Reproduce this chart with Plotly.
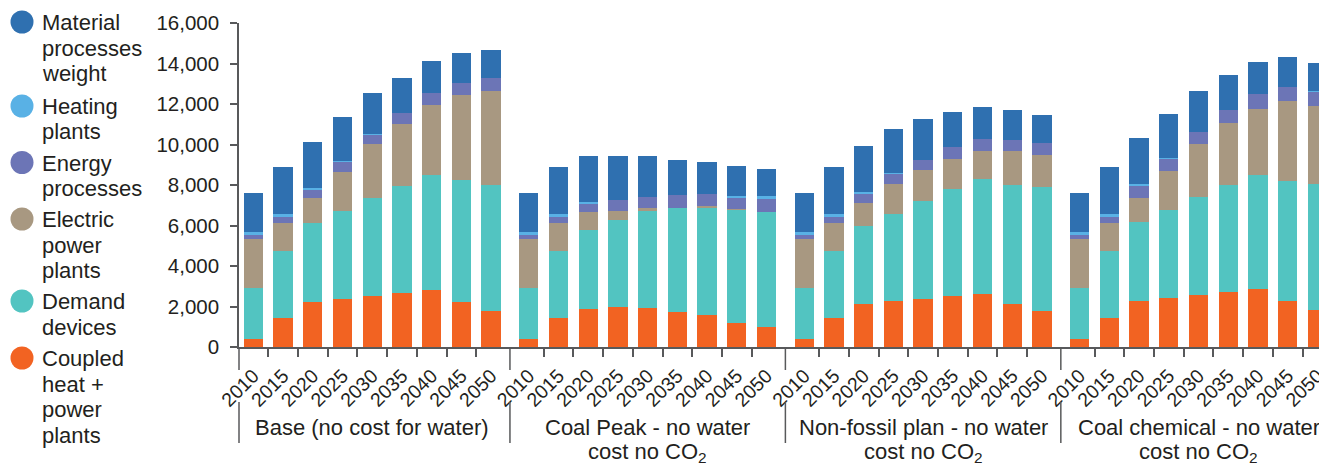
import plotly.graph_objects as go

# ---------------- data ----------------
years = [2010, 2015, 2020, 2025, 2030, 2035, 2040, 2045, 2050]
scenario_lines = [
    ["Base (no cost for water)"],
    ["Coal Peak - no water", "cost no CO<sub>2</sub>"],
    ["Non-fossil plan - no water", "cost no CO<sub>2</sub>"],
    ["Coal chemical - no water", "cost no CO<sub>2</sub>"],
]

# values per scenario block: Base | Coal Peak | Non-fossil | Coal chemical
coupled_chp = [380, 1435, 2230, 2360, 2520, 2660, 2800, 2230, 1770,
               380, 1435, 1860, 1960, 1910, 1720, 1570, 1170, 970,
               380, 1435, 2130, 2260, 2360, 2520, 2620, 2130, 1770,
               380, 1435, 2260, 2410, 2560, 2700, 2850, 2260, 1820]
demand_devices = [2540, 3300, 3890, 4350, 4830, 5310, 5690, 6020, 6240,
                  2540, 3300, 3930, 4320, 4800, 5150, 5340, 5610, 5690,
                  2540, 3300, 3860, 4320, 4850, 5280, 5670, 5870, 6140,
                  2540, 3300, 3930, 4370, 4850, 5300, 5640, 5940, 6250]
electric_power = [2410, 1385, 1240, 1930, 2670, 3050, 3460, 4210, 4650,
                  2410, 1385, 870, 430, 150, 0, 50, 30, 0,
                  2410, 1385, 1120, 1470, 1530, 1490, 1390, 1680, 1580,
                  2410, 1385, 1170, 1910, 2620, 3070, 3270, 3960, 3840]
energy_processes = [200, 300, 400, 500, 450, 545, 595, 595, 645,
                    200, 300, 445, 545, 545, 645, 595, 545, 645,
                    200, 300, 445, 495, 495, 595, 595, 545, 595,
                    200, 300, 595, 595, 595, 645, 740, 695, 695]
heating_plants = [150, 150, 100, 50, 50, 0, 0, 0, 0,
                  150, 150, 65, 0, 0, 0, 0, 100, 150,
                  150, 150, 100, 50, 0, 0, 0, 0, 0,
                  150, 150, 100, 50, 0, 0, 0, 0, 50]
material_processes = [1930, 2325, 2280, 2180, 2030, 1730, 1580, 1480, 1340,
                      1930, 2325, 2260, 2180, 2030, 1730, 1580, 1480, 1340,
                      1930, 2325, 2280, 2180, 2030, 1730, 1580, 1480, 1390,
                      1930, 2325, 2280, 2180, 2030, 1730, 1580, 1480, 1390]

# stacking order bottom -> top
series = [
    ("Coupled heat + power plants", ["Coupled", "heat +", "power", "plants"], coupled_chp, "#F26322"),
    ("Demand devices", ["Demand", "devices"], demand_devices, "#52C4C1"),
    ("Electric power plants", ["Electric", "power", "plants"], electric_power, "#A89881"),
    ("Energy processes", ["Energy", "processes"], energy_processes, "#6C75B6"),
    ("Heating plants", ["Heating", "plants"], heating_plants, "#59B1E5"),
    ("Material processes weight", ["Material", "processes", "weight"], material_processes, "#2F70B0"),
]

# ---------------- layout helpers ----------------
OFF = 8                      # page body margin of the html page
W, H = 1327 - OFF, 465 - OFF
ML, MR, MT, MB = 239 - OFF, 0, 23 - OFF, 118
PW, PH = W - ML - MR, H - MT - MB
UNIT = 29.86                 # px per category
FIRST = 253.4                # screen px of first bar centre
GAP = 0.267                  # extra space between scenario blocks (category units)
BLOCK = len(years) + GAP
TEXT = "#231F20"
AXIS = "#58595B"
FONT = "Liberation Sans, Arial, sans-serif"


def px_x(sx):
    return (sx - OFF - ML) / PW


def px_y(sy):
    return (H - MB - (sy - OFF)) / PH


x_pos = [g * BLOCK + i for g in range(len(scenario_lines)) for i in range(len(years))]
tick_text = [str(y) for _ in scenario_lines for y in years]

fig = go.Figure()
for name, _, vals, col in series:
    fig.add_trace(go.Bar(
        x=x_pos, y=vals, name=name, marker=dict(color=col, line=dict(width=0)),
        width=0.65, showlegend=False,
        hovertemplate=name + ": %{y:,}<extra></extra>",
    ))

minor_vals = [g * BLOCK + i + 0.5 for g in range(len(scenario_lines)) for i in range(len(years) - 1)]
sep_vals = [g * BLOCK - 0.5 - GAP / 2 for g in range(1, len(scenario_lines))]

shapes = []
annotations = []

# separators below the axis (left edge + between blocks)
for seg in [(347, 370), (402, 443)]:
    shapes.append(dict(type="line", xref="paper", yref="paper", x0=0, x1=0,
                       y0=px_y(seg[0]), y1=px_y(seg[1]),
                       line=dict(color=AXIS, width=1.5)))
    for sx in sep_vals:
        shapes.append(dict(type="line", xref="x", yref="paper", x0=sx, x1=sx,
                           y0=px_y(seg[0]), y1=px_y(seg[1]),
                           line=dict(color=AXIS, width=1.5)))

# scenario labels
for g, lines in enumerate(scenario_lines):
    for k, line in enumerate(lines):
        annotations.append(dict(
            x=g * BLOCK + (len(years) - 1) / 2, xref="x",
            y=px_y(427.5 + 25 * k), yref="paper", yanchor="middle", xanchor="center",
            text=line, showarrow=False, align="center", valign="middle",
            height=25, borderpad=0,
            font=dict(size=22, color=TEXT, family=FONT),
        ))

# custom legend (top entry = top of stack)
legend_y = [22, 106, 162.5, 219, 301, 358]
for (name, lines, _, col), cy in zip(series[::-1], legend_y):
    shapes.append(dict(type="circle", xref="paper", yref="paper",
                       xsizemode="pixel", ysizemode="pixel",
                       xanchor=px_x(21), yanchor=px_y(cy),
                       x0=-11.5, x1=11.5, y0=-11.5, y1=11.5,
                       fillcolor=col, line=dict(width=0)))
    for k, line in enumerate(lines):
        annotations.append(dict(
            x=px_x(40), xref="paper", y=px_y(cy + 1 + 25.5 * k), yref="paper",
            xanchor="left", yanchor="middle", align="left", valign="middle",
            height=25.5, borderpad=0, showarrow=False,
            text=line, font=dict(size=22, color=TEXT, family=FONT),
        ))

x0_range = -(FIRST - 239) / UNIT
fig.update_layout(
    width=W, height=H,
    margin=dict(l=ML, r=MR, t=MT, b=MB, pad=0),
    plot_bgcolor="white", paper_bgcolor="white",
    barmode="stack", bargap=0,
    font=dict(family=FONT, size=20, color=TEXT),
    showlegend=False,
    shapes=shapes, annotations=annotations,
    xaxis=dict(
        range=[x0_range, x0_range + PW / UNIT],
        tickmode="array", tickvals=x_pos, ticktext=tick_text,
        tickangle=-45, ticks="", ticklabelstandoff=8,
        ticklabeloverflow="allow",
        showline=True, linecolor=AXIS, linewidth=1.5,
        showgrid=False, zeroline=False,
        tickfont=dict(size=19.5, color=TEXT, family=FONT),
        minor=dict(tickmode="array", tickvals=minor_vals, ticks="outside",
                   ticklen=8, tickwidth=1.5, tickcolor=AXIS, showgrid=False),
    ),
    yaxis=dict(
        range=[0, 16000], dtick=2000, tickformat=",",
        ticks="outside", ticklen=7, tickwidth=1.5, tickcolor=AXIS,
        ticklabelstandoff=7,
        showline=True, linecolor=AXIS, linewidth=1.5,
        showgrid=False, zeroline=False,
        tickfont=dict(size=20.5, color=TEXT, family=FONT),
    ),
)

fig.write_html("out.html")
